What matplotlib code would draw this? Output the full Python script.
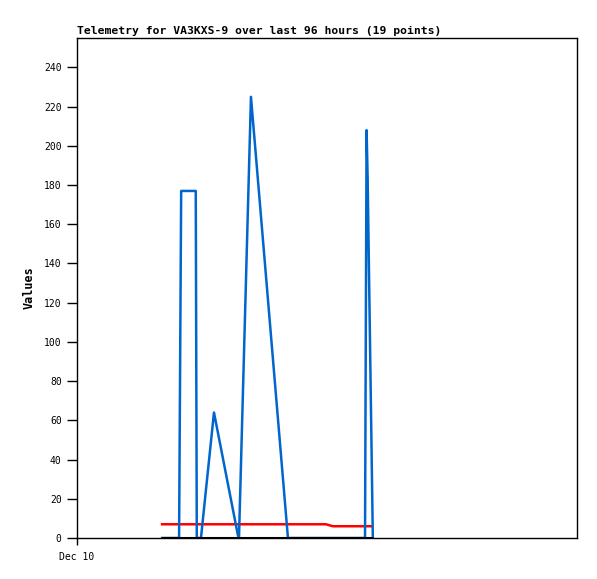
import matplotlib
matplotlib.use("Agg")
import matplotlib.pyplot as plt

### data (hours since Dec 10 00:00)
hours = [16.1, 19.6, 20.0, 22.8, 23.0, 23.8, 26.3, 31.0, 31.1, 33.4,
         40.5, 47.8, 49.1, 55.3, 55.6, 55.8, 56.8]
blue_vals = [0, 0, 177, 177, 0, 0, 64, 0, 0, 225,
             0, 0, 0, 0, 208, 184, 0]
red_vals = [7, 7, 7, 7, 7, 7, 7, 7, 7, 7,
            7, 7, 6, 6, 6, 6, 6]
black_vals = [0] * len(hours)

yticks = list(range(0, 241, 20))
xtick_pos = [0]
xtick_labels = ["Dec 10"]
title = "Telemetry for VA3KXS-9 over last 96 hours (19 points)"

### plot
fig = plt.figure(figsize=(5.97, 5.79), dpi=100)
ax = fig.add_axes([77/597, 1-538/579, 500/597, 500/579])

ax.plot(hours, red_vals, color="#ff0000", lw=1.8, solid_capstyle="butt", zorder=2)
ax.plot(hours, blue_vals, color="#0066cc", lw=1.8, solid_capstyle="butt", zorder=3)
ax.plot(hours, black_vals, color="black", lw=2.2, solid_capstyle="butt", zorder=4)

ax.set_xlim(0, 96)
ax.set_ylim(0, 255)
ax.set_yticks(yticks)
ax.set_xticks(xtick_pos)
ax.set_xticklabels(xtick_labels)

mono = "DejaVu Sans Mono"
for lab in ax.get_yticklabels() + ax.get_xticklabels():
    lab.set_fontfamily(mono)
    lab.set_fontsize(7)
ax.tick_params(axis="y", length=7, width=1, pad=4)
ax.tick_params(axis="x", length=5, width=1, pad=5)

for sp in ax.spines.values():
    sp.set_linewidth(1)

ax.set_ylabel("Values", fontfamily=mono, fontsize=8.5, fontweight="bold", labelpad=6)
ax.set_title(title, fontfamily=mono, fontsize=8.2, fontweight="bold", loc="left", pad=3)

fig.savefig("out.png", dpi=100)
